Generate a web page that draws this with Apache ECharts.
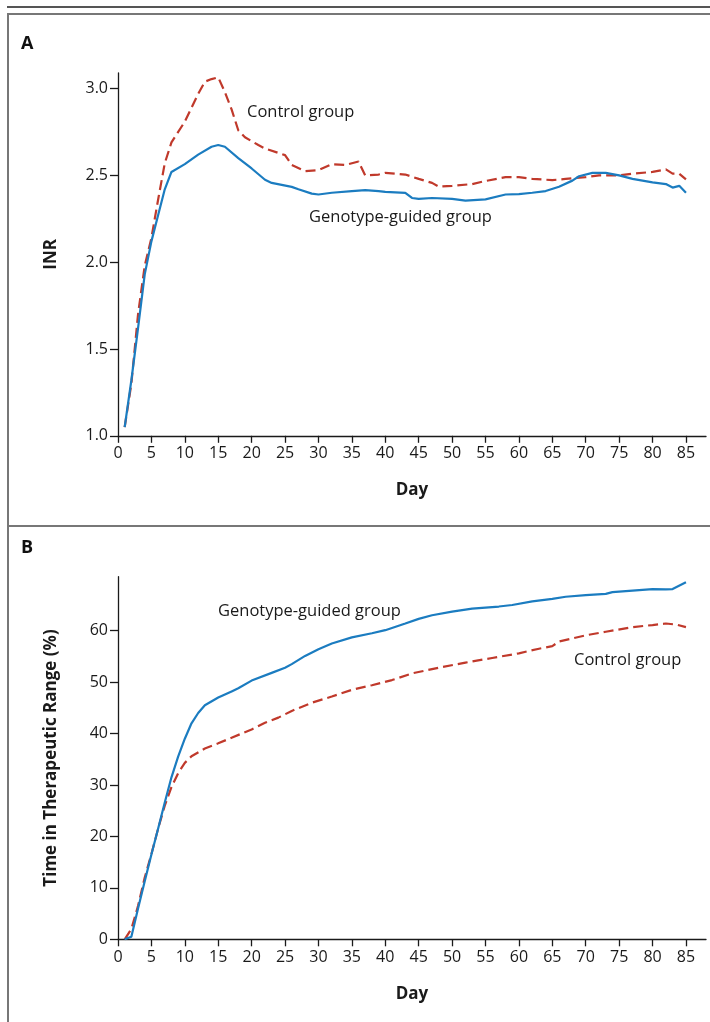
<!DOCTYPE html>
<html>
<head>
<meta charset="utf-8">
<script src="https://cdn.jsdelivr.net/npm/echarts@6/dist/echarts.min.js"></script>
<style>
  html, body { margin: 0; padding: 0; background: #fff; }
  #chart { width: 710px; height: 1022px; }
</style>
</head>
<body>
<div id="chart"></div>
<script>
// ---- Data ----
const xTicks = [0,5,10,15,20,25,30,35,40,45,50,55,60,65,70,75,80,85];
const yTicksA = [1.0,1.5,2.0,2.5,3.0];
const yTicksB = [0,10,20,30,40,50,60];

// Panel A: INR
const daysA_geno = [1,2,3,4,5,6,7,8,10,12,14,15,16,18,20,22,23,26,27,29,30,32,35,37,39,40,43,44,45,47,50,52,55,58,60,62,64,66,68,69,71,73,75,77,80,82,83,84,85];
const inrGeno    = [1.05,1.32,1.62,1.93,2.12,2.27,2.42,2.52,2.565,2.62,2.665,2.675,2.665,2.60,2.54,2.475,2.457,2.434,2.42,2.395,2.39,2.40,2.41,2.415,2.41,2.405,2.40,2.37,2.365,2.37,2.365,2.355,2.362,2.39,2.392,2.40,2.41,2.435,2.47,2.495,2.515,2.515,2.50,2.48,2.46,2.45,2.43,2.44,2.40];

const daysA_ctrl = [1,2,3,4,5,6,7,8,10,11,12,13,14,15,16,17,18,19,21,22,25,26,28,30,32,34,36,37,39,40,43,45,47,48,50,53,55,58,60,62,65,67,70,72,75,77,80,82,83,84,85];
const inrCtrl    = [1.05,1.30,1.70,1.98,2.14,2.36,2.57,2.69,2.81,2.89,2.97,3.04,3.055,3.065,2.98,2.88,2.76,2.72,2.675,2.655,2.617,2.56,2.525,2.53,2.565,2.56,2.58,2.50,2.505,2.515,2.505,2.48,2.457,2.435,2.44,2.45,2.468,2.49,2.49,2.48,2.473,2.48,2.49,2.50,2.50,2.51,2.52,2.535,2.51,2.51,2.477];

// Panel B: Time in therapeutic range (%)
const daysB_geno = [1,2,3,4,5,6,7,8,9,10,11,12,13,15,17,18,20,23,25,26,28,30,32,35,38,40,43,45,47,50,53,57,59,62,65,67,70,73,74,77,80,82,83,85];
const ttrGeno    = [0,0.5,6,11.3,16.5,21.5,26.6,31.5,35.5,39,42,44,45.5,47,48.2,48.8,50.3,51.8,52.8,53.5,55.1,56.4,57.5,58.7,59.5,60.1,61.4,62.3,63,63.7,64.3,64.7,65,65.7,66.2,66.6,66.9,67.15,67.5,67.8,68.1,68.05,68.1,69.4];

const daysB_ctrl = [1,2,3,4,5,6,7,8,9,10,11,13,15,17,20,22,24,26,29,32,35,38,41,44,48,52,56,60,63,65,66,70,73,77,80,82,83.5,85];
const ttrCtrl    = [0,2.0,6.5,12,16.6,21.5,26,29.6,32.3,34.3,35.6,37.1,38.1,39.2,40.8,42.1,43.1,44.4,46,47.2,48.5,49.4,50.4,51.7,52.8,53.8,54.7,55.6,56.5,57.0,57.9,59.1,59.8,60.7,61.1,61.4,61.2,60.7];

const zip = (xs, ys) => xs.map((x, i) => [x, ys[i]]);

// ---- Styles ----
const FONT = 'Open Sans';
const BLUE = '#1b7cc0';
const RED = '#c0392b';
const AXIS = '#1a1a1a';

function xAxisCfg(gridIndex) {
  return {
    type: 'value', gridIndex, min: 0, max: 88, interval: 5,
    name: 'Day', nameLocation: 'middle', nameGap: 46,
    nameTextStyle: { fontFamily: FONT, fontWeight: 'bold', fontSize: 17, color: AXIS },
    axisLine: { show: true, onZero: false, lineStyle: { color: AXIS, width: 1.3 } },
    axisTick: { show: true, length: 7, customValues: xTicks, lineStyle: { color: AXIS, width: 1.3 } },
    axisLabel: { customValues: xTicks, margin: 10, fontFamily: FONT, fontSize: 16, color: AXIS },
    splitLine: { show: false }
  };
}

function yAxisCfg(gridIndex, min, max, ticks, name, fmt) {
  return {
    type: 'value', gridIndex, min, max,
    name, nameLocation: 'middle', nameGap: 58,
    nameTextStyle: { fontFamily: FONT, fontWeight: 'bold', fontSize: 17, color: AXIS },
    axisLine: { show: true, onZero: false, lineStyle: { color: AXIS, width: 1.3 } },
    axisTick: { show: true, length: 8, customValues: ticks, lineStyle: { color: AXIS, width: 1.3 } },
    axisLabel: { customValues: ticks, margin: 10, fontFamily: FONT, fontSize: 16, color: AXIS, formatter: fmt },
    splitLine: { show: false }
  };
}

function lineSeries(xIdx, data, color, dashed) {
  return {
    type: 'line', xAxisIndex: xIdx, yAxisIndex: xIdx, data,
    symbol: 'none', smooth: false, animation: false,
    lineStyle: { color, width: 2.2, type: dashed ? [10, 5] : 'solid' },
    z: dashed ? 3 : 4
  };
}

function txt(x, y, s) {
  return {
    type: 'text', x, y,
    style: { text: s, fontFamily: FONT, fontSize: 16.5, fill: '#1a1a1a', textVerticalAlign: 'middle' }
  };
}

const chart = echarts.init(document.getElementById('chart'), null, { renderer: 'canvas' });
chart.setOption({
  backgroundColor: '#fff',
  animation: false,
  grid: [
    { left: 118, top: 73, width: 588, height: 362.8 },
    { left: 118, top: 576.7, width: 588, height: 362.6 }
  ],
  xAxis: [xAxisCfg(0), xAxisCfg(1)],
  yAxis: [
    yAxisCfg(0, 1, 3.09, yTicksA, 'INR', v => v.toFixed(1)),
    yAxisCfg(1, 0, 70.5, yTicksB, 'Time in Therapeutic Range (%)', v => String(v))
  ],
  series: [
    lineSeries(0, zip(daysA_ctrl, inrCtrl), RED, true),
    lineSeries(0, zip(daysA_geno, inrGeno), BLUE, false),
    lineSeries(1, zip(daysB_ctrl, ttrCtrl), RED, true),
    lineSeries(1, zip(daysB_geno, ttrGeno), BLUE, false)
  ],
  graphic: [
    { type: 'line', shape: { x1: 7, y1: 7, x2: 712, y2: 7 }, style: { stroke: '#555', lineWidth: 2 } },
    { type: 'rect', shape: { x: 8, y: 14, width: 720, height: 1030 }, style: { fill: 'none', stroke: '#777', lineWidth: 2 } },
    { type: 'line', shape: { x1: 8, y1: 526, x2: 712, y2: 526 }, style: { stroke: '#777', lineWidth: 2 } },
    { type: 'text', x: 21, y: 44, style: { text: 'A', fontFamily: FONT, fontWeight: 'bold', fontSize: 18, fill: '#111', textVerticalAlign: 'middle' } },
    { type: 'text', x: 21, y: 548, style: { text: 'B', fontFamily: FONT, fontWeight: 'bold', fontSize: 18, fill: '#111', textVerticalAlign: 'middle' } },
    txt(247, 112, 'Control group'),
    txt(309, 217, 'Genotype-guided group'),
    txt(218, 611, 'Genotype-guided group'),
    txt(574, 660, 'Control group')
  ]
});
</script>
</body>
</html>
